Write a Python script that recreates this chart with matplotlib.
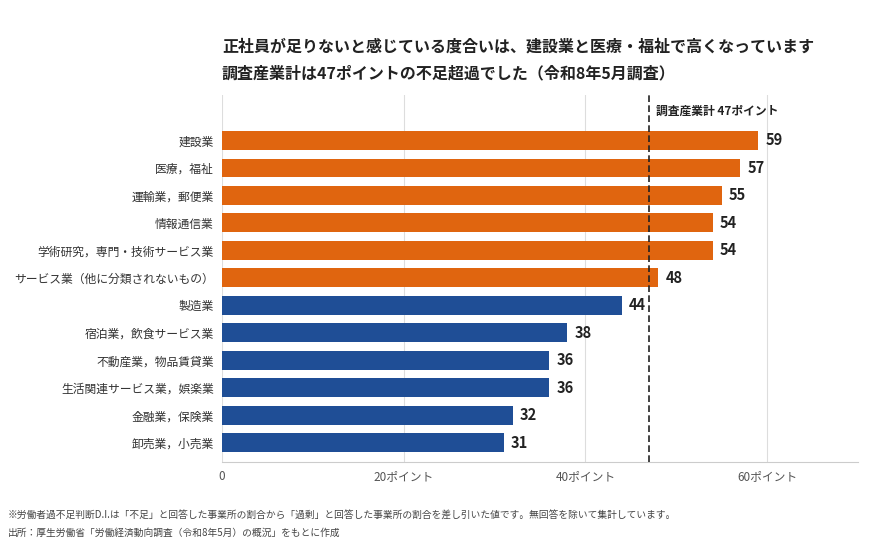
import matplotlib
matplotlib.use("Agg")
import matplotlib.pyplot as plt

plt.rcParams['font.family'] = ['Noto Sans CJK JP', 'DejaVu Sans']

categories = ["建設業", "医療，福祉", "運輸業，郵便業", "情報通信業", "学術研究，専門・技術サービス業",
              "サービス業（他に分類されないもの）", "製造業", "宿泊業，飲食サービス業", "不動産業，物品賃貸業",
              "生活関連サービス業，娯楽業", "金融業，保険業", "卸売業，小売業"]
values = [59, 57, 55, 54, 54, 48, 44, 38, 36, 36, 32, 31]
total = 47
xticks = [0, 20, 40, 60]
xticklabels = ["0", "20ポイント", "40ポイント", "60ポイント"]

fig = plt.figure(figsize=(8.7, 5.43), dpi=100)
ax = fig.add_axes([222/870, 1-462/543, 636/870, (462-95)/543])
colors = ["#E0650F" if v > total else "#1F4E96" for v in values]
y = list(range(len(categories)))
ax.barh(y, values, height=0.68, color=colors, zorder=3)
for yi, v in zip(y, values):
    ax.text(v + 0.8, yi, str(v), va='center', ha='left', fontsize=10.5, fontweight='bold', color='#222222')
ax.set_yticks(y)
ax.set_yticklabels(categories, fontsize=8.5, color='#333333')
ax.set_ylim(len(categories) - 0.3, -1.65)
ax.set_xlim(0, 70)
ax.set_xticks(xticks)
ax.set_xticklabels(xticklabels, fontsize=8.5, color='#555555')
ax.tick_params(length=0, pad=6)
ax.grid(axis='x', color='#dddddd', lw=0.8, zorder=0)
for s in ['top', 'right', 'left']:
    ax.spines[s].set_visible(False)
ax.spines['bottom'].set_color('#cccccc')
ax.axvline(total, color='#222222', lw=1.2, ls=(0, (4, 2)), zorder=4)
ax.text(total + 0.8, -1.05, "調査産業計 47ポイント", fontsize=8.5, fontweight='bold', va='center', ha='left', color='#222222')

fig.text(222/870, 1-47/543, "正社員が足りないと感じている度合いは、建設業と医療・福祉で高くなっています",
         fontsize=11.5, fontweight='bold', va='center', color='#222222')
fig.text(222/870, 1-73/543, "調査産業計は47ポイントの不足超過でした（令和8年5月調査）",
         fontsize=11.5, fontweight='bold', va='center', color='#222222')
fig.text(8/870, 1-515/543, "※労働者過不足判断D.I.は「不足」と回答した事業所の割合から「過剰」と回答した事業所の割合を差し引いた値です。無回答を除いて集計しています。",
         fontsize=7, va='center', color='#444444')
fig.text(8/870, 1-533/543, "出所：厚生労働省「労働経済動向調査（令和8年5月）の概況」をもとに作成",
         fontsize=7, va='center', color='#444444')
fig.savefig("out.png", dpi=100)
